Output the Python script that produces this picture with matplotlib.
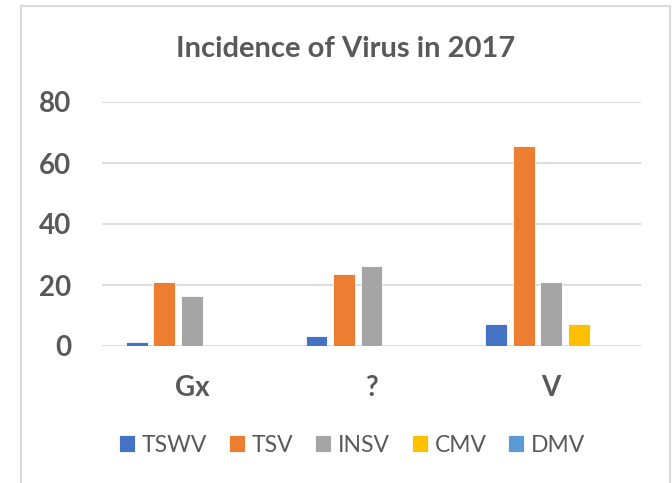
import numpy as np
import matplotlib.pyplot as plt
from matplotlib.patches import Rectangle

plt.rcParams['font.family'] = ['Lato', 'DejaVu Sans']

# data
groups = ['Gx', '?', 'V']
series = ['TSWV', 'TSV', 'INSV', 'CMV', 'DMV']
tswv = [1.2, 3.2, 7.2]
tsv = [21.0, 23.6, 65.6]
insv = [16.4, 26.3, 21.0]
cmv = [0, 0, 7.2]
dmv = [0, 0, 0]
colors = ['#4472C4', '#ED7D31', '#A5A5A5', '#FFC000', '#5B9BD5']
yticks = [0, 20, 40, 60, 80]

fig = plt.figure(figsize=(6.72, 4.83), dpi=100)
fig.patch.set_facecolor('white')

# outer chart border
fig.patches.append(Rectangle((21 / 672, -0.05), 649 / 672, 1 - 6 / 483 + 0.05,
                             transform=fig.transFigure, fill=False,
                             edgecolor='#D9D9D9', linewidth=1.5))

ax = fig.add_axes([102 / 672, 1 - 346 / 483, 539 / 672, 244 / 483])

x = np.arange(len(groups))
slot = 0.153
width = 0.122
for i, (name, vals) in enumerate(zip(series, [tswv, tsv, insv, cmv, dmv])):
    ax.bar(x + (i - 2) * slot, vals, width, color=colors[i], label=name,
           edgecolor='white', linewidth=0.6, zorder=3)

ax.set_xlim(-0.5, 2.5)
ax.set_ylim(0, 80)
ax.set_yticks(yticks)
ax.set_yticklabels([str(t) for t in yticks], fontsize=20, fontweight='bold', color='#595959')
ax.set_xticks(x)
ax.set_xticklabels(groups, fontsize=20, fontweight='bold', color='#595959')
ax.tick_params(axis='both', length=0)
ax.tick_params(axis='y', pad=22)
ax.tick_params(axis='x', pad=21)
ax.grid(axis='y', color='#D9D9D9', linewidth=1.3, zorder=0)
for s in ax.spines.values():
    s.set_visible(False)
ax.axhline(0, color='#D9D9D9', linewidth=1.3, zorder=2)

fig.text(346 / 672, 1 - 49 / 483, 'Incidence of Virus in 2017', ha='center', va='center',
         fontsize=21, fontweight='bold', color='#595959')

leg = fig.legend(loc='center', bbox_to_anchor=(352 / 672, 1 - 445 / 483), ncol=5,
                 frameon=False, fontsize=16.5, handlelength=0.7, handleheight=0.7,
                 handletextpad=0.3, columnspacing=0.95, labelcolor='#595959')

plt.savefig('out.png', dpi=100)
